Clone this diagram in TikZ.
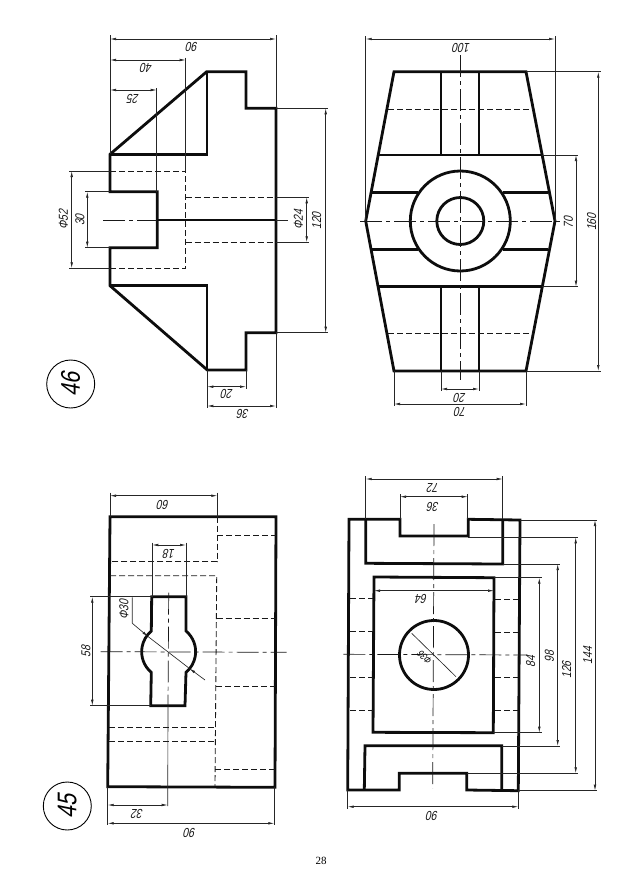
\documentclass[tikz,border=0pt]{standalone}
\usepackage{fontspec}
\usetikzlibrary{arrows.meta}
\setmainfont{Liberation Serif}
\newfontfamily\dimfont{Liberation Sans}[FakeStretch=0.8,FakeSlant=0.22]
\newfontfamily\numfont{Liberation Sans}[FakeStretch=0.8,FakeSlant=0.2]
\tikzset{
  thickline/.style={line width=2.8pt,line join=miter,black!95},
  thinline/.style={line width=0.65pt,black!85},
  dimline/.style={thinline,{Latex[length=6pt,width=2.6pt]}-{Latex[length=6pt,width=2.6pt]}},
  hiddenline/.style={line width=0.85pt,dash pattern=on 6pt off 3pt,black!90},
  axisline/.style={line width=0.7pt,dash pattern=on 22pt off 4pt on 4pt off 4pt,black!90},
  dimtext/.style={inner sep=0pt,font=\dimfont\fontsize{13}{14}\selectfont,black!90},
  dimup/.style={dimtext,rotate=180},
  dimside/.style={dimtext,rotate=90},
  badge/.style={circle,draw,line width=0.9pt,minimum size=48pt,inner sep=0pt,rotate=90,font=\numfont\fontsize{27}{28}\selectfont},
}
\begin{document}
\begin{tikzpicture}[x=1pt,y=-1pt]
\useasboundingbox (0,0) rectangle (642,894);
% ---------- Figure 46, left view
\draw[thickline] (110,154.3)--(206.7,71.7)--(246,71.7)--(246,108.3)--(276,108.3)--(276,332.7)--(246,332.7)--(246,370)--(207.3,370)--(110,285.7)--(110,247.7)--(157.3,247.7)--(157.3,191.7)--(110,191.7)--cycle;
\draw[thickline] (110,154.3)--(207,154.3)--(207,71.7);
\draw[thickline] (110,285.7)--(207,285.7)--(207,370);
\draw[thickline] (157.3,220)--(276,220);
\draw[hiddenline] (110,171)--(185.7,171)--(185.7,268.3)--(110,268.3);
\draw[hiddenline] (185.7,197.3)--(276,197.3);
\draw[hiddenline] (185.7,242.3)--(276,242.3);
\draw[axisline] (103.3,220)--(157.3,220);
\draw[thinline] (276,220)--(288.3,220);
\draw[thinline] (110,35)--(110,154.3) (276,35)--(276,108.3);
\draw[thinline] (185.7,57.7)--(185.7,171) (156.7,88)--(156.7,191.7);
\draw[thinline] (69,171)--(110,171) (69,268.3)--(110,268.3) (85,191.7)--(110,191.7) (85,247.7)--(110,247.7);
\draw[thinline] (276,197.3)--(309,197.3) (276,242.3)--(309,242.3) (276,108.3)--(328,108.3) (276,332.7)--(328,332.7);
\draw[thinline] (207.3,370)--(207.3,408) (246,370)--(246,388.5) (276,332.7)--(276,408);
\draw[dimline] (110,39)--(276,39);
\draw[dimline] (110,60)--(185.7,60);
\draw[dimline] (110,90)--(156.7,90);
\draw[dimline] (71.7,171)--(71.7,268.3);
\draw[dimline] (87.3,191.7)--(87.3,247.7);
\draw[dimline] (306.7,197.3)--(306.7,242.3);
\draw[dimline] (325.7,108.3)--(325.7,332.7);
\draw[dimline] (207.3,386.7)--(246,386.7);
\draw[dimline] (207.3,406)--(276,406);
\node[dimup] (a90) at (192.3,47.3) {90};
\node[dimup] (a40) at (146.7,68.3) {40};
\node[dimup] (a25) at (133.3,99) {25};
\node[dimside] (a52) at (63.3,220) {Φ52};
\node[dimside] (a30) at (80,220) {30};
\node[dimside] (a24) at (298.3,220) {Φ24};
\node[dimside] (a120) at (316.7,221) {120};
\node[dimup] (a20) at (227.3,394.3) {20};
\node[dimup] (a36) at (243.3,414) {36};
\node[badge] (b46) at (70.7,384) {46};
% ---------- Figure 46, right view
\draw[thickline] (394,71.7)--(526,71.7)--(555,221)--(526,371)--(394,371)--(365.7,221)--cycle;
\draw[thickline] (379.3,155)--(541.7,155) (379.3,286.7)--(541.7,286.7);
\draw[thickline] (372.3,192.7)--(418.3,192.7) (503.3,192.7)--(548.3,192.7) (372.3,249.3)--(418.3,249.3) (503.3,249.3)--(548.3,249.3);
\draw[thickline] (441,71.7)--(441,155) (479,71.7)--(479,155) (441,286.7)--(441,371) (479,286.7)--(479,371);
\draw[thickline] (460.3,221) circle[radius=50pt];
\draw[thickline] (460.3,221) circle[radius=23.5pt];
\draw[hiddenline] (388.3,109.3)--(532.7,109.3);
\draw[hiddenline] (388.3,333.3)--(532.7,333.3);
\draw[axisline] (360,221)--(561.7,221);
\draw[axisline] (460.3,55)--(460.3,380);
\draw[thinline] (365.7,36)--(365.7,221) (555,36)--(555,221);
\draw[thinline] (541.7,155)--(578.3,155) (541.7,286.7)--(578.3,286.7);
\draw[thinline] (526,71.7)--(600.7,71.7) (526,371)--(600.7,371);
\draw[thinline] (441,371)--(441,390.7) (479,371)--(479,390.7) (394,371)--(394,405.7) (526,371)--(526,405.7);
\draw[dimline] (365.7,39)--(555,39);
\draw[dimline] (576,155)--(576,286.7);
\draw[dimline] (598.3,71.7)--(598.3,371);
\draw[dimline] (441,389)--(479,389);
\draw[dimline] (394,404)--(526,404);
\node[dimup] (c100) at (461.7,47.7) {100};
\node[dimside] (c70) at (568.3,222.3) {70};
\node[dimside] (c160) at (591.7,222.3) {160};
\node[dimup] (c20) at (460,397.7) {20};
\node[dimup] (c70b) at (460.7,412) {70};
% ---------- Figure 45, left view
\draw[thickline] (110,516.7)--(276,516.7)--(275,787.3)--(107.7,786.7)--cycle;
\draw[thickline] (151.7,596.7)--(186,596.7)--(186,631) arc[start angle=50,end angle=-50,radius=27pt]--(185,705.7)--(150.7,705.7)--(151.3,672.4) arc[start angle=230,end angle=130,radius=27pt]--cycle;
\draw[hiddenline] (217.3,516.7)--(217.3,561.7)--(110,561.7);
\draw[hiddenline] (217.3,535.7)--(276,535.7);
\draw[hiddenline] (110,575.7)--(216.7,575.7)--(215,786);
\draw[hiddenline] (109,727.7)--(215.5,727.7);
\draw[hiddenline] (109,741.7)--(215,741.7);
\draw[hiddenline] (216.5,618.3)--(276,618.3);
\draw[hiddenline] (216,686)--(275,686);
\draw[hiddenline] (215,769)--(275,769);
\draw[axisline] (100.7,651.7)--(286.7,652.3);
\draw[axisline] (168.7,592.7)--(168,705.7);
\draw[thinline] (168,705.7)--(167.7,806);
\draw[thinline] (110,492.7)--(110,516.7) (217.3,492.7)--(217.3,516.7);
\draw[thinline] (152.3,542.7)--(152.3,596.7) (186,542.7)--(186,596.7);
\draw[thinline] (90,596.7)--(151.7,596.7) (90,705.7)--(150.7,705.7);
\draw[thinline] (107.7,787)--(107.7,825) (274.3,787)--(274.3,825);
\draw[dimline] (110,495.7)--(217.3,495.7);
\draw[dimline] (152.3,545)--(186,545);
\draw[dimline] (92.3,596.7)--(92.3,705.7);
\draw[dimline] (107.7,805)--(167.7,805);
\draw[dimline] (107.7,823.3)--(274.3,823.3);
\draw[thinline,-{Latex[length=6pt,width=2.6pt]}] (132.3,597.3)--(132.3,623.3)--(148,636.5);
\draw[thinline,{Latex[length=6pt,width=2.6pt]}-] (189.5,668.5)--(205,680);
\draw[thinline] (148,636.5)--(189.5,668.5);
\node[dimup] (d60) at (163.3,505) {60};
\node[dimup] (d18) at (169.3,554.3) {18};
\node[dimside] (d58) at (86,651.7) {58};
\node[dimside] (d30) at (124,610) {Φ30};
\node[dimup] (d32) at (137.7,813.5) {32};
\node[dimup] (d90) at (190,832.5) {90};
\node[badge] (b45) at (67.3,806) {45};
% ---------- Figure 45, right view
\draw[thickline] (349,519.3)--(400,519.3)--(400,536)--(468.3,536)--(468.3,519.3)--(520,520)--(518.3,790.7)--(466.7,790)--(466.7,773.3)--(399.3,773.3)--(399.3,790)--(347.7,790)--cycle;
\draw[thickline] (365.7,519.3)--(365.7,563.3)--(502.7,564)--(502.7,519.3);
\draw[thickline] (364.3,790)--(365,745.7)--(501.7,745.7)--(501.7,790);
\draw[thickline] (374,577)--(494,577.7)--(493.3,732.7)--(373,732.3)--cycle;
\draw[thickline] (434,655) circle[radius=34.5pt];
\foreach \yy in {598.3,631.7,677,710} \draw[hiddenline] (350,\yy)--(373.3,\yy);
\foreach \yy in {599.3,632.7,677.7,710.7} \draw[hiddenline] (495,\yy)--(518,\yy);
\draw[axisline] (343.3,654.3)--(527.3,655);
\draw[axisline] (434,524)--(432.7,788);
\draw[thinline] (365.7,476)--(365.7,519.3) (502.7,476)--(502.7,519.3);
\draw[thinline] (400,494.3)--(400,519.3) (467.7,494.3)--(467.7,519.3);
\draw[thinline] (494,577.7)--(541.7,577.7) (493.3,732.7)--(541.7,732.7);
\draw[thinline] (502.7,564)--(560,564) (501.7,746)--(560,746);
\draw[thinline] (468.3,537.3)--(577.7,537.3) (466.7,773.3)--(577.7,773.3);
\draw[thinline] (520,520)--(597.3,520) (518.3,790.7)--(597.3,790.7);
\draw[thinline] (347.7,790)--(347.7,809.3) (518.3,790.7)--(518.3,809.3);
\draw[dimline] (365.7,479)--(502.7,479);
\draw[dimline] (400,496.7)--(467.7,496.7);
\draw[dimline] (374,590.7)--(494,590.7);
\draw[thinline] (411.7,633.3)--(456,676.7);
\node[dimup] (e72) at (433.3,487.7) {72};
\node[dimup] (e36) at (433.3,506.7) {36};
\node[dimup] (e64) at (421.7,599.3) {64};
\node[inner sep=0pt,rotate=135,font=\dimfont\fontsize{10}{11}\selectfont] (e36d) at (425,658) {Φ36};
\draw[dimline] (539.3,577.7)--(539.3,732.7);
\draw[dimline] (557.7,564)--(557.7,746);
\draw[dimline] (575.7,537.3)--(575.7,773.3);
\draw[dimline] (595,520)--(595,790.7);
\draw[dimline] (347.7,806.7)--(518.3,806.7);
\node[dimside] (e84) at (530.7,661.7) {84};
\node[dimside] (e98) at (549.3,656.7) {98};
\node[dimside] (e126) at (566.7,670) {126};
\node[dimside] (e144) at (587.7,655.7) {144};
\node[dimup] (e90) at (432.7,816) {90};
\node[font=\fontsize{11}{12}\selectfont,inner sep=0pt] (page) at (321,861) {28};
\end{tikzpicture}
\end{document}
